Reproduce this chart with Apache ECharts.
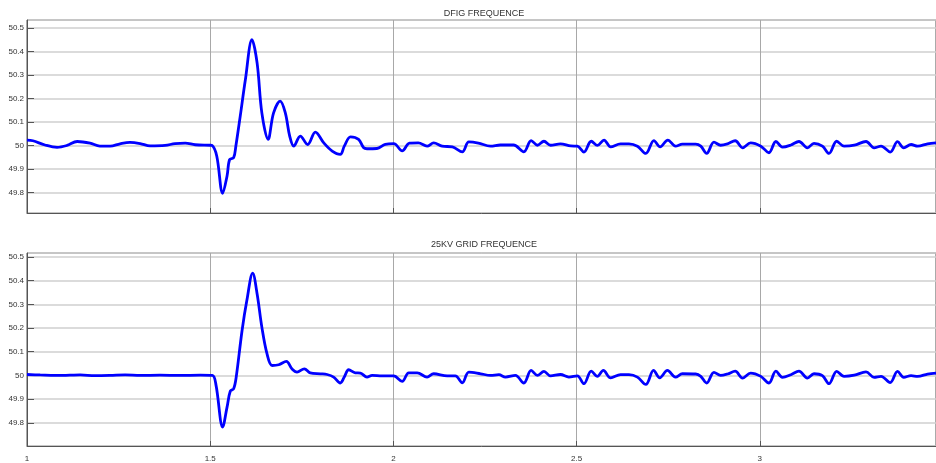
<!DOCTYPE html>
<html>
<head>
<meta charset="utf-8">
<script src="https://cdn.jsdelivr.net/npm/echarts@6/dist/echarts.min.js"></script>
<style>
html,body{margin:0;padding:0;background:#fff;}
#chart{width:936px;height:463px;}
</style>
</head>
<body>
<div id="chart"></div>
<script>
// Titles
const titleTop = 'DFIG FREQUENCE';
const titleBottom = '25KV GRID FREQUENCE';

// Axis ranges / ticks
const xTicks = [1, 1.5, 2, 2.5, 3];
const yTicks = [49.8, 49.9, 50, 50.1, 50.2, 50.3, 50.4, 50.5];

// DFIG frequency (top panel): time (s), frequency (Hz)
const topT = [1.000,1.016,1.049,1.082,1.109,1.137,1.172,1.199,1.227,1.254,1.281,1.309,1.336,1.377,1.404,1.432,1.459,1.500,1.505,
  1.518,1.534,1.546,1.553,1.564,1.570,1.582,1.596,1.614,1.628,1.641,1.658,1.673,1.691,1.705,1.717,1.728,1.746,1.766,1.787,1.810,
  1.833,1.855,1.866,1.883,1.905,1.919,1.928,1.955,1.978,2.001,2.024,2.044,2.068,2.092,2.110,2.133,2.161,2.188,2.206,2.232,2.265,
  2.292,2.328,2.356,2.376,2.393,2.411,2.429,2.456,2.484,2.502,2.520,2.540,2.557,2.575,2.593,2.620,2.643,2.666,2.689,2.711,2.728,
  2.749,2.770,2.789,2.825,2.839,2.855,2.875,2.893,2.912,2.933,2.953,2.975,3.003,3.025,3.044,3.062,3.085,3.107,3.130,3.148,3.171,
  3.189,3.210,3.230,3.258,3.290,3.312,3.331,3.356,3.376,3.393,3.413,3.431,3.458,3.481];
const topV = [50.023,50.020,50.002,49.992,50.000,50.017,50.010,49.997,49.997,50.007,50.013,50.008,49.998,50.000,50.008,50.010,50.003,50.001,50.000,
  49.954,49.796,49.870,49.940,49.948,49.997,50.125,50.280,50.451,50.352,50.139,50.026,50.139,50.189,50.139,50.040,49.997,50.040,50.004,50.057,50.011,
  49.976,49.962,49.997,50.037,50.026,49.990,49.986,49.987,50.005,50.008,49.977,50.010,50.011,49.997,50.011,49.997,49.994,49.973,50.015,50.010,49.997,
  50.002,50.002,49.973,50.021,50.001,50.018,50.001,50.007,49.998,49.997,49.972,50.018,50.000,50.023,49.994,50.007,50.007,49.997,49.966,50.021,49.994,
  50.023,49.997,50.006,50.006,49.997,49.966,50.014,50.001,50.007,50.020,49.990,50.011,49.997,49.969,50.017,49.993,50.002,50.017,49.990,50.009,49.997,
  49.966,50.018,49.997,50.001,50.017,49.990,49.997,49.972,50.016,49.990,50.004,49.997,50.007,50.011];

// 25 kV grid frequency (bottom panel): time (s), frequency (Hz)
const botT = [1.000,1.036,1.077,1.117,1.145,1.186,1.227,1.268,1.309,1.363,1.418,1.473,1.506,
  1.516,1.534,1.546,1.555,1.564,1.571,1.587,1.600,1.616,1.628,1.641,1.655,1.669,1.687,1.708,1.723,1.737,1.757,1.773,1.801,1.819,
  1.837,1.855,1.866,1.878,1.896,1.910,1.928,1.942,1.969,2.001,2.024,2.042,2.065,2.092,2.110,2.147,2.169,2.188,2.206,2.238,2.265,
  2.288,2.306,2.333,2.356,2.376,2.393,2.411,2.429,2.456,2.479,2.502,2.520,2.540,2.557,2.573,2.593,2.620,2.643,2.666,2.689,2.710,
  2.727,2.748,2.770,2.789,2.825,2.839,2.855,2.875,2.893,2.912,2.933,2.953,2.975,3.003,3.025,3.044,3.062,3.085,3.107,3.130,3.148,
  3.171,3.189,3.210,3.230,3.258,3.290,3.312,3.331,3.356,3.376,3.393,3.413,3.431,3.458,3.481];
const botV = [50.004,50.002,50.000,50.001,50.002,49.999,50.000,50.002,50.000,50.001,50.000,50.001,50.000,
  49.958,49.782,49.866,49.934,49.944,49.993,50.190,50.316,50.432,50.345,50.204,50.092,50.042,50.045,50.059,50.028,50.014,50.028,50.011,50.007,50.004,
  49.993,49.968,49.993,50.024,50.011,50.010,49.993,50.000,49.998,49.998,49.975,50.011,50.011,49.993,50.007,49.998,49.998,49.969,50.014,50.007,50.000,
  50.003,49.993,50.000,49.968,50.021,50.000,50.017,49.998,50.004,49.993,49.998,49.965,50.018,49.996,50.021,49.990,50.003,50.003,49.993,49.962,50.021,
  49.990,50.021,49.993,50.007,50.006,49.996,49.968,50.013,50.000,50.006,50.018,49.989,50.010,49.996,49.968,50.018,49.992,50.003,50.018,49.989,50.007,
  49.999,49.965,50.017,49.996,50.001,50.015,49.992,49.996,49.970,50.017,49.992,49.999,49.996,50.006,50.010];

const xMin = 1, xMax = 3.481;
const yRangeTop = [49.712, 50.535];
const yRangeBot = [49.702, 50.517];

const zip = (a, b) => a.map((t, i) => [t, b[i]]);
const isTick = (arr, v) => arr.some(t => Math.abs(t - v) < 1e-6);

const FONT = 'Liberation Sans, Arial, sans-serif';
const chart = echarts.init(document.getElementById('chart'), null, {renderer: 'canvas'});

function xAxisCfg(idx, showLabels) {
  return {
    type: 'value', gridIndex: idx, min: xMin, max: xMax, interval: 0.5,
    axisLine: {show: true, onZero: false, lineStyle: {color: '#555', width: 1}},
    axisTick: {show: true, inside: true, length: 5, lineStyle: {color: '#555'}},
    axisLabel: {show: showLabels, color: '#333', fontSize: 8, fontFamily: FONT, margin: 9,
      showMaxLabel: false,
      formatter: v => isTick(xTicks, v) ? String(v) : ''},
    splitLine: {show: true, lineStyle: {color: '#a8a8a8', width: 1}}
  };
}
function yAxisCfg(idx, range) {
  return {
    type: 'value', gridIndex: idx, min: range[0], max: range[1], splitNumber: 8,
    axisLine: {show: true, lineStyle: {color: '#555', width: 1}},
    axisTick: {show: true, inside: true, length: 7, lineStyle: {color: '#555'}},
    axisLabel: {color: '#333', fontSize: 8, fontFamily: FONT, margin: 3,
      showMinLabel: false, showMaxLabel: false,
      formatter: v => isTick(yTicks, v) ? String(Math.round(v * 10) / 10) : ''},
    splitLine: {show: true, lineStyle: {color: '#cfcfcf', width: 1.5}}
  };
}

chart.setOption({
  animation: false,
  backgroundColor: '#ffffff',
  title: [
    {text: titleTop, left: 484, top: 9, padding: 0, textAlign: 'center',
      textStyle: {fontSize: 9, fontWeight: 'normal', color: '#333', fontFamily: FONT}},
    {text: titleBottom, left: 484, top: 240, padding: 0, textAlign: 'center',
      textStyle: {fontSize: 9, fontWeight: 'normal', color: '#333', fontFamily: FONT}}
  ],
  grid: [
    {left: 27, top: 20, width: 909, height: 193, show: true, borderColor: '#555', borderWidth: 1, containLabel: false},
    {left: 27, top: 253, width: 909, height: 193, show: true, borderColor: '#555', borderWidth: 1, containLabel: false}
  ],
  xAxis: [xAxisCfg(0, false), xAxisCfg(1, true)],
  yAxis: [yAxisCfg(0, yRangeTop), yAxisCfg(1, yRangeBot)],
  series: [
    {type: 'line', xAxisIndex: 0, yAxisIndex: 0, data: zip(topT, topV), showSymbol: false, smooth: 0.35,
      lineStyle: {color: '#0000ff', width: 2.8}},
    {type: 'line', xAxisIndex: 1, yAxisIndex: 1, data: zip(botT, botV), showSymbol: false, smooth: 0.35,
      lineStyle: {color: '#0000ff', width: 2.8}}
  ]
});
</script>
</body>
</html>
